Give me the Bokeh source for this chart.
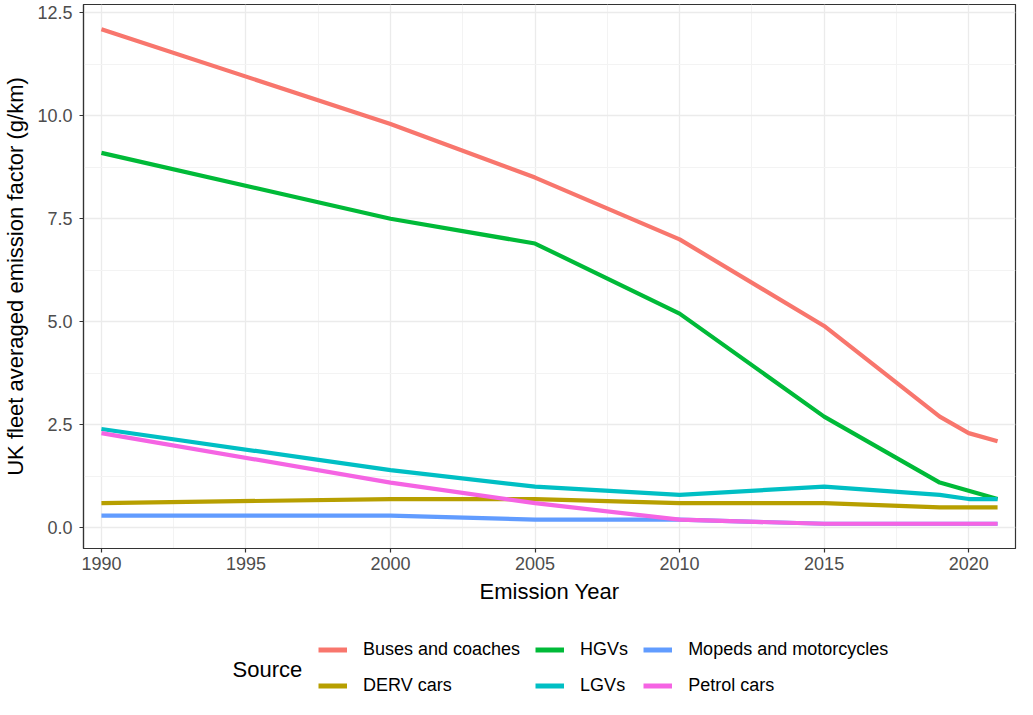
from bokeh.plotting import figure
from bokeh.models import (Range1d, FixedTicker, PrintfTickFormatter, Legend, LegendItem,
                          Label, ColumnDataSource)
from bokeh.layouts import column
from bokeh.embed import file_html
from bokeh.resources import INLINE

years = [1990, 2000, 2005, 2010, 2015, 2019, 2020, 2021]
sources = ["Buses and coaches", "DERV cars", "HGVs", "LGVs",
           "Mopeds and motorcycles", "Petrol cars"]
buses = [12.1, 9.8, 8.5, 7.0, 4.9, 2.7, 2.3, 2.1]
derv = [0.6, 0.7, 0.7, 0.6, 0.6, 0.5, 0.5, 0.5]
hgvs = [9.1, 7.5, 6.9, 5.2, 2.7, 1.1, 0.9, 0.7]
lgvs = [2.4, 1.4, 1.0, 0.8, 1.0, 0.8, 0.7, 0.7]
mopeds = [0.3, 0.3, 0.2, 0.2, 0.1, 0.1, 0.1, 0.1]
petrol = [2.3, 1.1, 0.6, 0.2, 0.1, 0.1, 0.1, 0.1]
colors = ["#F8766D", "#B79F00", "#00BA38", "#00BFC4", "#619CFF", "#F564E3"]
x_ticks = [1990, 1995, 2000, 2005, 2010, 2015, 2020]
x_minor = [1992.5, 1997.5, 2002.5, 2007.5, 2012.5, 2017.5]
y_ticks = [0, 2.5, 5, 7.5, 10, 12.5]
y_minor = [1.25, 3.75, 6.25, 8.75, 11.25]

FONT = "Liberation Sans"
W = 1017

p = figure(width=W, height=610, output_backend="svg", toolbar_location=None,
           x_range=Range1d(1989.38, 2021.62), y_range=Range1d(-0.5, 12.7),
           min_border_left=70, min_border_right=2, min_border_top=4,
           min_border_bottom=62)

p.background_fill_color = "white"
p.border_fill_color = "white"
p.outline_line_color = "#333333"
p.outline_line_width = 1.2

for g in (p.xgrid[0], p.ygrid[0]):
    g.grid_line_color = "#EBEBEB"
    g.grid_line_width = 1.3
    g.minor_grid_line_color = "#F3F3F3"
    g.minor_grid_line_width = 1

p.xaxis.ticker = FixedTicker(ticks=x_ticks, minor_ticks=x_minor)
p.yaxis.ticker = FixedTicker(ticks=y_ticks, minor_ticks=y_minor)
p.yaxis.formatter = PrintfTickFormatter(format="%.1f")

for ax in (p.xaxis[0], p.yaxis[0]):
    ax.axis_line_color = "#333333"
    ax.axis_line_width = 1.2
    ax.major_tick_line_color = "#333333"
    ax.major_tick_line_width = 1.2
    ax.major_tick_out = 4
    ax.major_tick_in = 0
    ax.minor_tick_line_color = None
    ax.major_label_text_font = FONT
    ax.major_label_text_font_size = "18px"
    ax.major_label_text_color = "#4D4D4D"
    ax.axis_label_text_font = FONT
    ax.axis_label_text_font_size = "22px"
    ax.axis_label_text_font_style = "normal"
    ax.axis_label_text_color = "black"

p.xaxis.axis_label = "Emission Year"
p.yaxis.axis_label = "UK fleet averaged emission factor (g/km)"
p.xaxis.major_label_standoff = 4
p.xaxis.axis_label_standoff = 6
p.yaxis.major_label_standoff = 7
p.yaxis.axis_label_standoff = 6

series = [buses, derv, hgvs, lgvs, mopeds, petrol]
for vals, col in zip(series, colors):
    src = ColumnDataSource(dict(x=years, y=vals))
    p.line("x", "y", source=src, line_color=col, line_width=4.2,
           line_join="round", line_cap="butt")

# legend strip below the plot (its frame is aligned with the main frame)
p2 = figure(width=W, height=89, output_backend="svg", toolbar_location=None,
            x_range=Range1d(0, 1), y_range=Range1d(0, 1),
            x_axis_type=None, y_axis_type=None,
            min_border=0, min_border_left=0, min_border_right=0,
            min_border_top=0, min_border_bottom=0)
p2.outline_line_color = None
p2.background_fill_color = "white"
p2.border_fill_color = "white"
p2.xgrid.visible = False
p2.ygrid.visible = False

items = []
for name, vals, col in zip(sources, series, colors):
    # same series, outside this strip's range: only the legend swatch shows
    src = ColumnDataSource(dict(x=years, y=vals))
    r = p2.line("x", "y", source=src, line_color=col, line_width=5, line_cap="butt")
    items.append(LegendItem(label=name, renderers=[r]))

legend = Legend(items=items, orientation="vertical", nrows=2,
                location=(235, 3), padding=0, margin=0, spacing=15,
                glyph_width=29, glyph_height=19, label_height=19,
                label_standoff=16, label_text_font=FONT,
                label_text_font_size="18px", label_text_color="black",
                border_line_color=None, background_fill_alpha=0)
p2.add_layout(legend, "center")

p2.add_layout(Label(x=149, y=30, x_units="screen", y_units="screen",
                    text="Source", text_font=FONT, text_font_size="22px",
                    text_baseline="middle", text_color="black"))

layout = column(p, p2, spacing=0)
open("out.html", "w").write(file_html(layout, INLINE))
